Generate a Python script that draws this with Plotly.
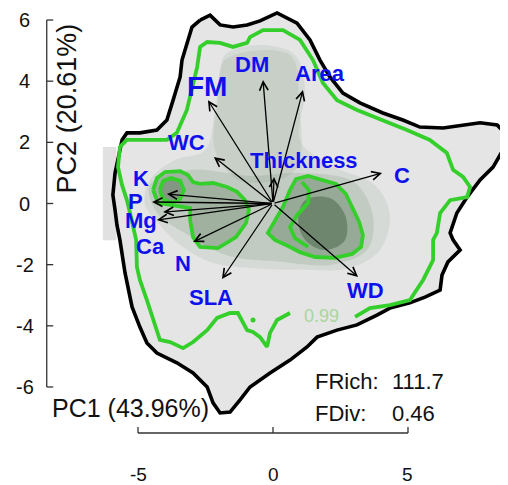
import plotly.graph_objects as go

# ------------------------------------------------------------------ data
pc1_label = "PC1 (43.96%)"
pc2_label = "PC2 (20.61%)"

traits = ["FM", "DM", "Area", "Thickness", "C", "WC", "K", "P", "Mg", "Ca", "N", "SLA", "WD"]
load_x = [-2.41, -0.37, 1.11, 0.04, 4.04, -2.19, -3.93, -4.48, -4.30, -4.07, -2.96, -1.89, 3.15]
load_y = [3.38, 4.04, 3.71, 0.87, 1.00, 1.52, 0.31, 0.05, -0.54, -0.28, -1.26, -2.47, -2.40]
label_x = [-2.44, -0.78, 1.74, 1.13, 4.78, -3.19, -4.89, -5.11, -4.89, -4.52, -3.33, -2.30, 3.41]
label_y = [3.81, 4.56, 4.24, 1.42, 0.93, 2.01, 0.83, 0.08, -0.54, -1.39, -1.95, -3.06, -2.86]

fd_names = ["FRich:", "FDiv:"]
fd_values = ["111.7", "0.46"]

ticks_x = [-5, 0, 5]
ticks_y = [-6, -4, -2, 0, 2, 4, 6]

contour_label = "0.99"
contour_label_xy = (1.81, -3.68)

# outer (black) boundary of the functional space
hull_x = [-2.70, -2.33, -1.96, -1.48, -0.96, -0.48, 0.15, 0.89, 1.37, 1.74, 2.11, 2.59, 3.22, 4.07,
          4.81, 5.44, 6.30, 7.04, 7.67, 8.30, 8.59, 8.52, 8.15, 7.67, 7.19, 6.81, 6.56, 6.67, 6.93,
          6.48, 6.26, 6.19, 5.63, 5.07, 4.33, 3.85, 3.11, 2.37, 1.63, 1.26, 0.63, -0.11, -0.85,
          -1.22, -1.59, -1.96, -2.22, -2.44, -2.96, -3.56, -4.30, -4.67, -4.93, -5.22, -5.48,
          -5.67, -5.78, -5.85, -5.93, -5.85, -5.74, -5.59, -5.41, -4.93, -4.30, -3.93, -3.70,
          -3.44, -3.37, -3.19, -3.00]
hull_y = [6.00, 6.16, 5.84, 5.77, 5.84, 5.97, 6.23, 5.90, 5.35, 4.69, 4.14, 3.61, 3.29, 2.96,
          2.73, 2.50, 2.47, 2.57, 2.64, 2.57, 2.31, 1.75, 1.19, 0.77, 0.21, -0.31, -0.96, -1.19,
          -1.52, -1.91, -2.34, -2.83, -3.06, -3.25, -3.42, -3.65, -3.97, -4.14, -4.37, -4.69,
          -5.12, -5.54, -6.00, -6.42, -6.82, -6.85, -6.52, -6.00, -5.54, -5.21, -4.89, -4.56,
          -4.04, -3.38, -2.27, -1.19, -0.70, -0.21, 0.28, 1.00, 1.52, 2.08, 2.31, 2.31, 2.40,
          2.73, 3.38, 4.14, 4.69, 5.25, 5.77]

# 0.99 density contour (green, open at its label)
c99_x = [3.04, 3.59, 4.33, 5.07, 5.56, 5.93, 5.93, 6.07, 6.19, 6.56, 7.19, 7.30, 7.04, 6.67, 6.44,
         5.81, 4.96, 4.07, 3.11, 2.37, 1.85, 1.48, 1.00, 0.37, -0.37, -0.85, -0.96, -1.48, -1.96,
         -2.44, -2.70, -2.81, -2.96, -3.19, -3.56, -3.93, -4.67, -5.41, -5.67, -5.74, -5.59,
         -5.41, -5.26, -5.07, -5.04, -4.93, -4.67, -4.44, -4.19, -3.81, -3.33, -2.96, -2.44,
         -2.07, -1.59, -1.30, -1.11, -0.96, -0.74, -0.48, -0.22, -0.11, 0.15, 0.63]
c99_y = [-3.71, -3.42, -3.32, -3.16, -2.50, -1.85, -1.19, -0.96, -0.31, 0.11, 0.21, 0.54, 0.87,
         1.10, 1.65, 2.08, 2.40, 2.73, 3.06, 3.38, 3.94, 4.69, 5.35, 5.67, 5.67, 5.44, 5.25, 5.12,
         5.25, 5.28, 5.12, 4.46, 3.94, 3.06, 2.31, 2.08, 2.08, 2.08, 1.85, 1.19, 0.60, 0.11,
         -0.44, -1.19, -2.08, -2.50, -3.16, -3.81, -4.46, -4.53, -4.73, -4.53, -4.14, -3.74,
         -3.58, -3.58, -3.91, -4.14, -4.20, -4.37, -4.69, -4.23, -3.81, -3.58]
c99_dot = ([-0.74], [-3.81])

# inner (0.5) density contours
left_x = [-4.44, -4.30, -4.00, -3.44, -3.15, -2.96, -2.70, -2.22, -1.70, -1.33, -1.04, -0.89,
          -1.00, -1.37, -2.04, -2.70, -2.96, -3.07, -3.07, -3.63, -4.26, -4.44]
left_y = [0.44, 0.83, 1.03, 1.06, 0.93, 0.70, 0.64, 0.67, 0.54, 0.38, 0.11, -0.21, -0.64, -1.10,
          -1.46, -1.42, -1.10, -0.54, -0.15, -0.08, 0.02, 0.44]
ring_x = [-4.19, -4.07, -3.78, -3.44, -3.30, -3.44, -3.74, -4.07, -4.19]
ring_y = [0.44, 0.74, 0.83, 0.74, 0.44, 0.15, 0.02, 0.15, 0.44]
right_x = [0.63, 0.85, 1.30, 1.81, 2.33, 2.70, 2.96, 3.19, 3.33, 3.26, 2.93, 2.30, 1.56, 1.00,
           0.56, 0.07, -0.19, 0.04, 0.37, 0.63]
right_y = [0.44, 0.80, 0.90, 0.77, 0.64, 0.31, -0.15, -0.60, -1.03, -1.42, -1.65, -1.78, -1.75,
           -1.59, -1.39, -1.19, -0.96, -0.60, -0.11, 0.44]
right_in_x = [1.07, 1.33, 1.30, 0.89, 0.63, 0.81, 1.30]
right_in_y = [0.70, 0.44, 0.02, -0.38, -0.77, -1.13, -1.42]

# density shading levels (outer -> inner)
mid_x = [-1.78, -0.48, 0.81, 1.19, 1.00, 2.11, 3.78, 4.33, 3.96, 2.85, 1.00, -0.85, -2.33, -3.44,
         -4.19, -4.74, -4.56, -3.63, -2.52, -2.15, -1.96]
mid_y = [4.86, 5.18, 4.86, 3.71, 2.08, 1.26, 0.60, -0.38, -1.52, -2.11, -2.17, -2.11, -1.91,
         -1.36, -0.70, -0.05, 0.77, 1.42, 1.75, 3.06, 4.20]
column_x = [-1.78, 0.63, 0.96, 0.81, -1.22, -2.15, -2.04]
column_y = [4.69, 4.86, 3.38, 1.07, 0.74, 1.75, 3.38]
centre_x = [-4.56, -3.00, -0.85, 1.00, 3.00, 3.70, 3.50, 2.20, 0.20, -1.70, -3.20, -4.30]
centre_y = [0.60, 1.10, 0.90, 1.00, 0.70, -0.40, -1.50, -2.00, -1.90, -1.70, -1.00, -0.30]
core_x = [1.19, 2.11, 2.67, 2.67, 1.93, 1.19, 0.93]
core_y = [0.11, 0.18, -0.38, -1.19, -1.52, -1.19, -0.54]
raster_x = [-6.30, -5.80, -5.80, -6.30]
raster_y = [1.85, 1.85, -1.20, -1.20]

# ------------------------------------------------------------------ figure
FONT = "Liberation Sans, Arial, Helvetica, sans-serif"
GREEN = "#35cf2c"

fig = go.Figure()


def closed(xs, ys):
    return list(xs) + [xs[0]], list(ys) + [ys[0]]


def add_fill(xs, ys, color, smooth=False):
    cx, cy = closed(xs, ys)
    fig.add_trace(go.Scatter(x=cx, y=cy, mode="lines", fill="toself", fillcolor=color,
                             line=dict(width=0, shape="spline" if smooth else "linear"),
                             hoverinfo="skip", showlegend=False))


def add_line(xs, ys, color, width):
    fig.add_trace(go.Scatter(x=xs, y=ys, mode="lines", line=dict(color=color, width=width),
                             hoverinfo="skip", showlegend=False))


add_fill(raster_x, raster_y, "rgba(215,215,215,0.75)")
add_fill(hull_x, hull_y, "#e5e5e5")
add_fill(mid_x, mid_y, "rgba(90,130,90,0.10)", smooth=True)
add_fill(column_x, column_y, "rgba(70,115,70,0.10)", smooth=True)
add_fill(centre_x, centre_y, "rgba(60,105,60,0.13)", smooth=True)
add_fill(left_x, left_y, "rgba(40,85,40,0.22)", smooth=True)
add_fill(ring_x, ring_y, "rgba(30,60,30,0.22)", smooth=True)
add_fill(right_x, right_y, "rgba(40,85,40,0.28)", smooth=True)
add_fill(core_x, core_y, "rgba(25,55,25,0.32)", smooth=True)

hx, hy = closed(hull_x, hull_y)
add_line(hx, hy, "black", 3.6)
add_line(c99_x, c99_y, GREEN, 3.8)
fig.add_trace(go.Scatter(x=c99_dot[0], y=c99_dot[1], mode="markers",
                         marker=dict(color=GREEN, size=5), hoverinfo="skip", showlegend=False))
add_line(left_x, left_y, GREEN, 3.8)
add_line(*closed(ring_x, ring_y), GREEN, 3.8)
add_line(right_x, right_y, GREEN, 3.8)
add_line(right_in_x, right_in_y, GREEN, 3.8)

annotations = []
# loading arrows
for lx, ly in zip(load_x, load_y):
    annotations.append(dict(x=lx, y=ly, ax=0, ay=0, xref="x", yref="y", axref="x", ayref="y",
                            text="", showarrow=True, arrowhead=5, arrowsize=1.3, arrowwidth=1.3,
                            arrowcolor="black", standoff=0, startstandoff=0))
# trait labels
for name, tx, ty in zip(traits, label_x, label_y):
    annotations.append(dict(x=tx, y=ty, xref="x", yref="y", text=name, showarrow=False,
                            xanchor="center", yanchor="middle",
                            font=dict(family=FONT, size=28 if name == "FM" else 22,
                                      color="#1010ee", weight="bold")))
# contour level label
annotations.append(dict(x=contour_label_xy[0], y=contour_label_xy[1], xref="x", yref="y",
                        text=contour_label, showarrow=False,
                        font=dict(family=FONT, size=18, color="#a9d69c")))

# axes (R style, detached)
AX_COL = "#333333"
x_axis_y, x_tick_len, x_lab_y = -7.505, 0.2, -8.86
y_axis_x, y_tick_len, y_lab_x = -8.38, 0.24, -9.20
shapes = [dict(type="line", xref="x", yref="y", x0=min(ticks_x), x1=max(ticks_x),
               y0=x_axis_y, y1=x_axis_y, line=dict(color=AX_COL, width=1.3)),
          dict(type="line", xref="x", yref="y", x0=y_axis_x, x1=y_axis_x,
               y0=min(ticks_y), y1=max(ticks_y), line=dict(color=AX_COL, width=1.3))]
for t in ticks_x:
    shapes.append(dict(type="line", xref="x", yref="y", x0=t, x1=t, y0=x_axis_y,
                       y1=x_axis_y + x_tick_len, line=dict(color=AX_COL, width=1.3)))
    annotations.append(dict(x=t, y=x_lab_y, xref="x", yref="y", text=str(t), showarrow=False,
                            font=dict(family=FONT, size=19, color="#111111")))
for t in ticks_y:
    shapes.append(dict(type="line", xref="x", yref="y", x0=y_axis_x, x1=y_axis_x + y_tick_len,
                       y0=t, y1=t, line=dict(color=AX_COL, width=1.3)))
    annotations.append(dict(x=y_lab_x, y=t, xref="x", yref="y", text=str(t), showarrow=False,
                            font=dict(family=FONT, size=20, color="#111111")))

annotations.append(dict(x=-5.26, y=-6.70, xref="x", yref="y", text=pc1_label, showarrow=False,
                        font=dict(family=FONT, size=25, color="#111111")))
annotations.append(dict(x=-7.63, y=3.11, xref="x", yref="y", text=pc2_label, showarrow=False,
                        textangle=-90, font=dict(family=FONT, size=27, color="#111111")))

for i, (nm, val) in enumerate(zip(fd_names, fd_values)):
    yy = -5.83 - 1.04 * i
    annotations.append(dict(x=1.48, y=yy, xref="x", yref="y", text=nm, showarrow=False,
                            xanchor="left", font=dict(family=FONT, size=22, color="#111111")))
    annotations.append(dict(x=4.33, y=yy, xref="x", yref="y", text=val, showarrow=False,
                            xanchor="left", font=dict(family=FONT, size=22, color="#111111")))

# the page body has an 8px margin, so the figure covers window pixels 8..508 x 8..485
fig.update_layout(
    width=500, height=477, margin=dict(l=0, r=0, t=0, b=0),
    paper_bgcolor="white", plot_bgcolor="white", showlegend=False,
    xaxis=dict(range=[-9.815, 8.704], visible=False, fixedrange=True),
    yaxis=dict(range=[-9.205, 6.393], visible=False, fixedrange=True),
    shapes=shapes, annotations=annotations,
)

fig.write_html("out.html")
